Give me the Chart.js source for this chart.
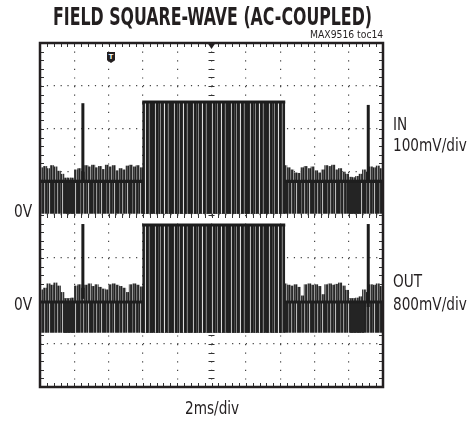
<!DOCTYPE html>
<html lang="en">
<head>
<meta charset="UTF-8">
<title>Field square-wave (AC-coupled)</title>
<style>
  body { margin: 0; background: #fff; }
  #wrap { position: relative; width: 469px; height: 426px; }
  #scope { position: absolute; left: 0; top: 0; }
  .lbl {
    position: absolute; white-space: nowrap; line-height: 1; color: #231f20;
    font-family: "Liberation Sans Narrow", "DejaVu Sans Condensed", "Liberation Sans", sans-serif;
    transform-origin: 0 0;
  }
  #trig {
    position: absolute; left: 107px; top: 52px; width: 8px; height: 11px;
    background: #231f20; color: #fff; font: bold 8px "Liberation Sans", sans-serif;
    text-align: center; line-height: 9px;
    clip-path: polygon(0 0, 100% 0, 100% 75%, 50% 100%, 0 75%);
  }
</style>
</head>
<body>
<div id="wrap">
  <canvas id="scope" width="469" height="426"></canvas>
  <div class="lbl" id="title" style="font-weight:bold">FIELD SQUARE-WAVE (AC-COUPLED)</div>
  <div class="lbl" id="code">MAX9516 toc14</div>
  <div class="lbl" id="inName">IN</div>
  <div class="lbl" id="inScale">100mV/div</div>
  <div class="lbl" id="outName">OUT</div>
  <div class="lbl" id="outScale">800mV/div</div>
  <div class="lbl" id="inZero">0V</div>
  <div class="lbl" id="outZero">0V</div>
  <div class="lbl" id="timeScale">2ms/div</div>
  <div id="trig">T</div>
</div>

<script src="https://cdn.jsdelivr.net/npm/chart.js"></script>
<script>
  // time axis in divisions (2ms/div), vertical axis in divisions
  const colLeft  = [0.05,0.15,0.25,0.35,0.45,0.55,0.65,0.75,0.85,0.95,1.05,1.15,1.25,1.35,1.45,
                    1.55,1.65,1.75,1.85,1.95,2.05,2.15,2.25,2.35,2.45,2.55,2.65,2.75,2.85,2.95];
  const colRight = [7.15,7.25,7.35,7.45,7.55,7.65,7.75,7.85,7.95,8.05,8.15,8.25,8.35,8.45,8.55,
                    8.65,8.75,8.85,8.95,9.05,9.15,9.25,9.35,9.45,9.55,9.65,9.75,9.85,9.95];

  // tops of the noise "grass" above the low level
  const inNoiseLeft   = [1.10,1.13,1.08,1.15,1.12,1.02,0.95,0.86,0.86,0.86,1.05,1.08,1.00,1.15,1.12,
                         1.16,1.10,1.13,1.06,1.16,1.12,1.15,1.03,1.08,1.05,1.14,1.16,1.12,1.15,1.10];
  const inNoiseRight  = [1.15,1.10,1.05,0.98,0.97,1.10,1.13,1.08,1.12,1.03,0.98,1.05,1.15,1.13,1.16,
                         1.05,1.08,1.00,0.95,0.88,0.87,0.90,0.95,1.05,1.00,1.12,1.10,1.14,1.08];
  const outNoiseLeft  = [-1.74,-1.70,-1.60,-1.63,-1.58,-1.65,-1.80,-1.95,-1.95,-1.93,-1.65,-1.62,-1.70,-1.63,-1.60,
                         -1.66,-1.62,-1.68,-1.72,-1.74,-1.62,-1.60,-1.63,-1.66,-1.70,-1.80,-1.62,-1.60,-1.63,-1.67];
  const outNoiseRight = [-1.60,-1.63,-1.65,-1.62,-1.68,-1.88,-1.62,-1.60,-1.63,-1.62,-1.66,-1.85,-1.62,-1.60,-1.63,
                         -1.61,-1.58,-1.65,-1.75,-1.95,-1.95,-1.93,-1.90,-1.74,-1.80,-1.62,-1.63,-1.60,-1.66];

  // levels: [bottom of band, core line, low level, high level]
  const inLevels  = [0.03, 0.80, 0.86, 2.63];
  const outLevels = [-2.74, -2.00, -1.95, -0.23];
  const burstEdges = [2.98, 7.15];

  // dense solid stretches of the low band
  const inBlocks  = [[0.76, 1.02], [8.98, 9.36]];
  const outBlocks = [[0.68, 1.02], [9.04, 9.45]];

  // glitches: time, IN top, OUT top, OUT bottom
  const spikeT       = [1.25, 9.57];
  const inSpikeTop   = [2.60, 2.56];
  const outSpikeTop  = [-0.21, -0.21];
  const outSpikeLow  = [-1.95, -2.14];

  const canvas = document.getElementById('scope');
  const ctx0 = canvas.getContext('2d');

  function stripes(cols) {
    const c = document.createElement('canvas');
    c.width = cols.length; c.height = 1;
    const g = c.getContext('2d');
    cols.forEach((col, i) => { g.fillStyle = col; g.fillRect(i, 0, 1, 1); });
    return ctx0.createPattern(c, 'repeat');
  }
  const bandFill  = stripes(['#222','#222','#666','#2a2a2a','#222','#999','#333','#222','#4a4a4a','#222','#bbb','#2c2c2c','#222']);
  const burstFill = stripes(['#222','#1e1e1e','#2a2a2a','#bbb','#222','#1c1c1c','#444','#222','#888','#1e1e1e',
                             '#222','#2e2e2e','#ddd','#222','#1c1c1c','#333','#777','#222','#202020']);
  const noiseFill = stripes(['#333','#555','#222','#777','#3a3a3a','#2a2a2a','#999']);

  const hidden = { pointRadius: 0, borderWidth: 0, borderColor: 'rgba(0,0,0,0)' };

  function traceSets(lv, noiseL, noiseR, blocks, spikeTop, spikeLow) {
    const sets = [];
    sets.push({ type: 'line', order: 10, ...hidden, backgroundColor: bandFill,
      fill: { value: lv[0] }, data: [{ x: 0, y: lv[2] }, { x: 10, y: lv[2] }] });
    blocks.forEach(b => sets.push({ type: 'line', order: 9, ...hidden, backgroundColor: '#242424',
      fill: { value: lv[0] }, data: [{ x: b[0], y: lv[1] }, { x: b[1], y: lv[1] }] }));
    sets.push({ type: 'line', order: 8, pointRadius: 0, borderWidth: 5, borderColor: '#1e1e1e', fill: false,
      data: [{ x: 0, y: lv[1] }, { x: 10, y: lv[1] }] });
    sets.push({ type: 'bar', order: 7, grouped: false, barPercentage: 1, categoryPercentage: 1,
      backgroundColor: noiseFill, borderWidth: 0,
      data: colLeft.map((t, i) => ({ x: t, y: [lv[2] - 0.03, noiseL[i]] }))
        .concat(colRight.map((t, i) => ({ x: t, y: [lv[2] - 0.03, noiseR[i]] }))) });
    sets.push({ type: 'line', order: 6, pointRadius: 0, borderWidth: 3, borderColor: '#1c1c1c',
      backgroundColor: burstFill, fill: { value: lv[0] },
      data: [{ x: burstEdges[0], y: lv[3] }, { x: burstEdges[1], y: lv[3] }] });
    spikeT.forEach((t, i) => sets.push({ type: 'line', order: 5, pointRadius: 0, borderWidth: 3,
      borderColor: '#1c1c1c', fill: false,
      data: [{ x: t, y: spikeLow[i] }, { x: t, y: spikeTop[i] }] }));
    return sets;
  }

  const datasets = traceSets(inLevels, inNoiseLeft, inNoiseRight, inBlocks, inSpikeTop, [inLevels[1], inLevels[1]])
    .concat(traceSets(outLevels, outNoiseLeft, outNoiseRight, outBlocks, outSpikeTop, outSpikeLow));

  const scopeFrame = {
    id: 'scopeFrame',
    beforeDatasetsDraw(chart) {
      const { ctx, chartArea: a, scales: { x, y } } = chart;
      const cx = x.getPixelForValue(5), cy = y.getPixelForValue(0);
      ctx.save();
      ctx.strokeStyle = '#333';
      ctx.lineWidth = 1;
      ctx.beginPath();
      for (let k = 0; k <= 50; k++) {
        const px = Math.round(x.getPixelForValue(k / 5)) + 0.5;
        ctx.moveTo(px, cy - 3); ctx.lineTo(px, cy + 3);
        ctx.moveTo(px, a.top); ctx.lineTo(px, a.top + 4);
        ctx.moveTo(px, a.bottom); ctx.lineTo(px, a.bottom - 4);
      }
      for (let k = 0; k <= 40; k++) {
        const py = Math.round(y.getPixelForValue(-4 + k / 5)) + 0.5;
        ctx.moveTo(cx - 3, py); ctx.lineTo(cx + 3, py);
        ctx.moveTo(a.left, py); ctx.lineTo(a.left + 4, py);
        ctx.moveTo(a.right, py); ctx.lineTo(a.right - 4, py);
      }
      ctx.stroke();
      ctx.restore();
    },
    afterDatasetsDraw(chart) {
      const { ctx, chartArea: a, scales: { x } } = chart;
      const cx = x.getPixelForValue(5);
      ctx.save();
      ctx.strokeStyle = '#231f20';
      ctx.lineWidth = 2.5;
      ctx.strokeRect(a.left, a.top, a.right - a.left, a.bottom - a.top);
      ctx.fillStyle = '#231f20';
      ctx.beginPath();
      ctx.moveTo(cx - 4, a.top); ctx.lineTo(cx + 4, a.top); ctx.lineTo(cx, a.top + 6);
      ctx.closePath(); ctx.fill();
      ctx.restore();
    }
  };

  const gridOpts = { color: '#444', lineWidth: 1.2, drawTicks: false, offset: false };

  new Chart(canvas, {
    type: 'bar',
    data: { datasets },
    options: {
      responsive: false,
      animation: false,
      layout: { padding: { left: 40, top: 43, right: 86, bottom: 39 } },
      plugins: { legend: { display: false }, tooltip: { enabled: false } },
      scales: {
        x: { type: 'linear', min: 0, max: 10, offset: false,
             ticks: { display: false, stepSize: 1 }, grid: gridOpts,
             border: { display: false, dash: [1.2, 7.4] } },
        y: { type: 'linear', min: -4, max: 4,
             ticks: { display: false, stepSize: 1 }, grid: gridOpts,
             border: { display: false, dash: [1.2, 5.66] } }
      }
    },
    plugins: [scopeFrame]
  });

  // text placement: x, baseline, font size, target width, alignment
  function place(id, x, base, size, width, align, scale) {
    const el = document.getElementById(id);
    el.style.fontSize = size + 'px';
    el.style.top = (base - 0.85 * size) + 'px';
    const w = el.offsetWidth;
    const s = scale || (width ? width / w : 1);
    el.style.transform = 'scaleX(' + s + ')';
    let left = x;
    if (align === 'right') left = x - w * s;
    if (align === 'center') left = x - w * s / 2;
    el.style.left = left + 'px';
    return s;
  }
  place('title', 53, 25, 24, 319, 'left');
  place('code', 383, 38, 10, 73, 'right');
  const sIn = place('inScale', 393, 151, 17, 74, 'left');
  place('inName', 393, 130, 17, 0, 'left', sIn);
  place('outScale', 393, 310, 17, 74, 'left', sIn);
  place('outName', 393, 287, 17, 0, 'left', sIn);
  place('inZero', 14, 217, 17, 18, 'left');
  place('outZero', 14, 310, 17, 18, 'left');
  place('timeScale', 212, 414, 17, 0, 'center', sIn);
</script>
</body>
</html>
